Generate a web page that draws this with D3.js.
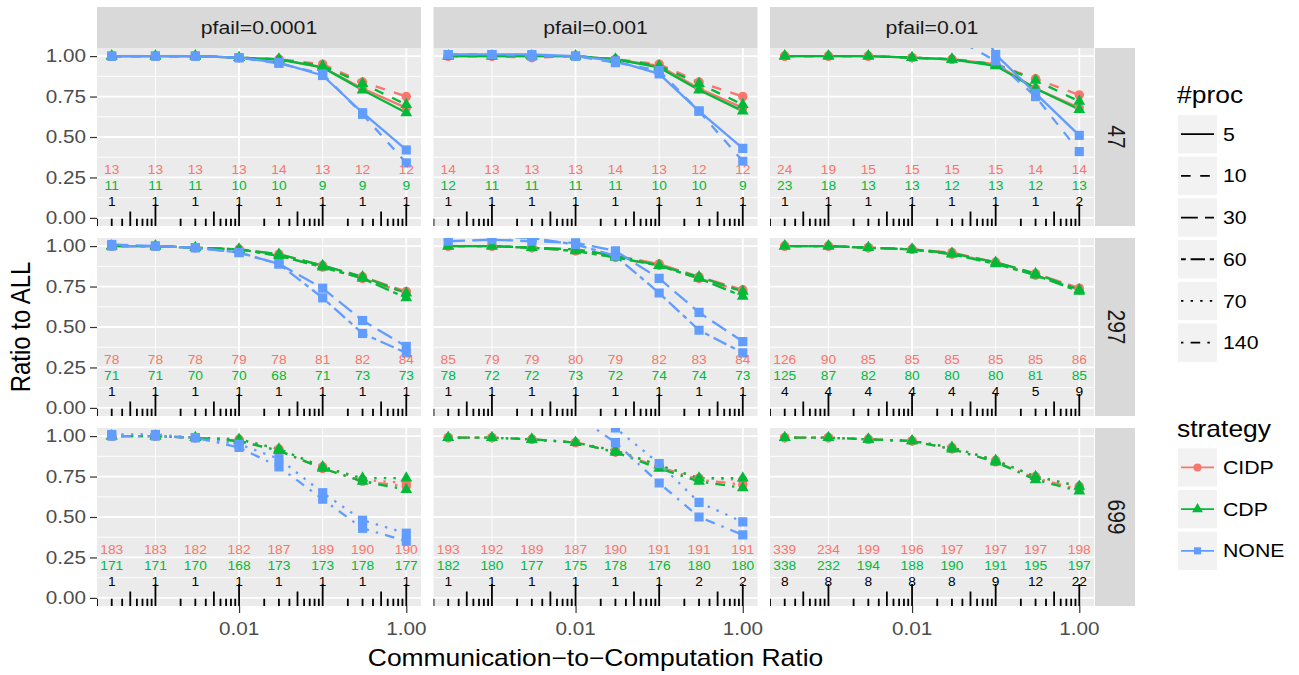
<!DOCTYPE html>
<html>
<head>
<meta charset="utf-8">
<script src="https://cdn.jsdelivr.net/npm/d3@7"></script>
<style>
  body { margin: 0; background: #fff; }
  text { font-family: "Liberation Sans", Arial, sans-serif; }
</style>
</head>
<body>
<div id="chart"></div>
<script>
// x values (communication-to-computation ratio) and facets
const ratios = [0.0003, 0.001, 0.003, 0.01, 0.03, 0.1, 0.3, 1];
const pfails = ["pfail=0.0001", "pfail=0.001", "pfail=0.01"];
const taskRows = ["47", "297", "699"];
const procRows = [[5, 10], [30, 60], [70, 140]];
const procs = [5, 10, 30, 60, 70, 140];
const strategies = ["CIDP", "CDP", "NONE"];

// tick labels
const xMajor = [0.01, 1], xMinor = [0.001, 0.1];
const yMajor = [0, 0.25, 0.5, 0.75, 1], yMinor = [0.125, 0.375, 0.625, 0.875];

// ratio to ALL: [pfail column][proc of the row] -> one value per ratio
const cidp47 = [
  [[1.0, 1.0, 1.0, 0.99, 0.98, 0.93, 0.80, 0.68], [1.0, 1.0, 1.0, 0.99, 0.98, 0.95, 0.84, 0.75]],
  [[1.0, 1.0, 1.0, 1.0, 0.98, 0.94, 0.80, 0.68], [1.0, 1.0, 0.99, 1.0, 0.98, 0.95, 0.84, 0.75]],
  [[1.0, 1.0, 1.0, 0.99, 0.98, 0.95, 0.80, 0.68], [1.0, 1.0, 1.0, 0.99, 0.98, 0.95, 0.86, 0.76]]
];
const cdp47 = [
  [[1.0, 1.0, 1.0, 0.99, 0.98, 0.93, 0.79, 0.65], [1.0, 1.0, 1.0, 0.99, 0.98, 0.94, 0.83, 0.70]],
  [[1.0, 1.0, 1.0, 1.0, 0.98, 0.93, 0.79, 0.66], [1.0, 1.0, 1.0, 1.0, 0.98, 0.94, 0.83, 0.70]],
  [[1.0, 1.0, 1.0, 0.99, 0.98, 0.94, 0.80, 0.67], [1.0, 1.0, 1.0, 0.99, 0.98, 0.95, 0.85, 0.72]]
];
const none47 = [
  [[1.0, 1.0, 1.0, 0.99, 0.96, 0.88, 0.65, 0.42], [1.0, 1.0, 1.0, 0.99, 0.955, 0.89, 0.64, 0.34]],
  [[1.01, 1.01, 1.01, 1.0, 0.97, 0.89, 0.66, 0.43], [1.01, 1.01, 1.0, 1.0, 0.96, 0.91, 0.66, 0.35]],
  [[1.3, 1.3, 1.3, 1.3, 1.5, 1.01, 0.77, 0.51], [1.35, 1.35, 1.35, 1.3, 1.12, 0.97, 0.75, 0.41]]
];
const cidp297 = [
  [[1.0, 1.0, 0.99, 0.98, 0.95, 0.88, 0.81, 0.72], [1.0, 1.0, 0.99, 0.98, 0.94, 0.87, 0.80, 0.71]],
  [[1.0, 1.0, 0.99, 0.98, 0.94, 0.89, 0.81, 0.73], [1.0, 1.0, 0.99, 0.97, 0.93, 0.88, 0.80, 0.72]],
  [[1.0, 1.0, 0.99, 0.98, 0.96, 0.90, 0.83, 0.74], [1.0, 1.0, 0.99, 0.98, 0.95, 0.90, 0.82, 0.73]]
];
const cdp297 = [
  [[1.0, 1.0, 0.99, 0.98, 0.95, 0.88, 0.81, 0.71], [1.0, 1.0, 0.99, 0.98, 0.94, 0.87, 0.80, 0.68]],
  [[1.0, 1.0, 0.99, 0.98, 0.94, 0.88, 0.81, 0.72], [1.0, 1.0, 0.99, 0.97, 0.93, 0.88, 0.80, 0.69]],
  [[1.0, 1.0, 0.99, 0.98, 0.955, 0.90, 0.83, 0.73], [1.0, 1.0, 0.99, 0.98, 0.95, 0.89, 0.82, 0.72]]
];
const none297 = [
  [[1.01, 1.0, 0.99, 0.96, 0.89, 0.74, 0.54, 0.38], [1.0, 1.0, 0.99, 0.96, 0.89, 0.68, 0.46, 0.34]],
  [[1.03, 1.04, 1.03, 1.02, 0.97, 0.80, 0.59, 0.41], [1.06, 1.06, 1.05, 1.01, 0.94, 0.71, 0.48, 0.34]],
  [[null, null, null, null, null, null, null, null], [null, null, null, null, null, null, null, null]]
];
const cidp699 = [
  [[1.0, 1.0, 0.99, 0.98, 0.92, 0.81, 0.73, 0.71], [1.0, 1.0, 0.99, 0.97, 0.91, 0.80, 0.72, 0.69]],
  [[0.99, 0.99, 0.98, 0.96, 0.91, 0.82, 0.74, 0.73], [0.99, 0.99, 0.98, 0.96, 0.90, 0.81, 0.73, 0.70]],
  [[0.99, 0.99, 0.98, 0.97, 0.93, 0.85, 0.75, 0.69], [0.99, 0.99, 0.98, 0.97, 0.92, 0.84, 0.74, 0.67]]
];
const cdp699 = [
  [[1.0, 1.0, 0.99, 0.98, 0.92, 0.81, 0.74, 0.74], [1.0, 1.0, 0.99, 0.97, 0.91, 0.80, 0.72, 0.67]],
  [[0.99, 0.99, 0.98, 0.96, 0.91, 0.82, 0.74, 0.74], [0.99, 0.99, 0.98, 0.96, 0.90, 0.80, 0.72, 0.68]],
  [[0.99, 0.99, 0.98, 0.97, 0.93, 0.85, 0.75, 0.69], [0.99, 0.99, 0.98, 0.97, 0.92, 0.84, 0.73, 0.66]]
];
const none699 = [
  [[1.01, 1.01, 0.99, 0.95, 0.86, 0.65, 0.48, 0.40], [1.0, 1.0, 0.99, 0.93, 0.81, 0.61, 0.43, 0.35]],
  [[1.4, 1.4, 1.35, 1.3, 1.05, 0.83, 0.59, 0.47], [1.3, 1.3, 1.25, 1.13, 0.96, 0.71, 0.50, 0.39]],
  [[null, null, null, null, null, null, null, null], [null, null, null, null, null, null, null, null]]
];

// counts printed in each panel: [pfail column] -> one per ratio
const nCidp47 = [[13, 13, 13, 13, 14, 13, 12, 12], [14, 13, 13, 13, 14, 13, 12, 12], [24, 19, 15, 15, 15, 15, 14, 14]];
const nCdp47 = [[11, 11, 11, 10, 10, 9, 9, 9], [12, 11, 11, 11, 11, 10, 10, 9], [23, 18, 13, 13, 12, 13, 12, 13]];
const nNone47 = [[1, 1, 1, 1, 1, 1, 1, 1], [1, 1, 1, 1, 1, 1, 1, 1], [1, 1, 1, 1, 1, 1, 1, 2]];
const nCidp297 = [[78, 78, 78, 79, 78, 81, 82, 84], [85, 79, 79, 80, 79, 82, 83, 84], [126, 90, 85, 85, 85, 85, 85, 86]];
const nCdp297 = [[71, 71, 70, 70, 68, 71, 73, 73], [78, 72, 72, 73, 72, 74, 74, 73], [125, 87, 82, 80, 80, 80, 81, 85]];
const nNone297 = [[1, 1, 1, 1, 1, 1, 1, 1], [1, 1, 1, 1, 1, 1, 1, 1], [4, 4, 4, 4, 4, 4, 5, 9]];
const nCidp699 = [[183, 183, 182, 182, 187, 189, 190, 190], [193, 192, 189, 187, 190, 191, 191, 191], [339, 234, 199, 196, 197, 197, 197, 198]];
const nCdp699 = [[171, 171, 170, 168, 173, 173, 178, 177], [182, 180, 177, 175, 178, 176, 180, 180], [338, 232, 194, 188, 190, 191, 195, 197]];
const nNone699 = [[1, 1, 1, 1, 1, 1, 1, 1], [1, 1, 1, 1, 1, 1, 2, 2], [8, 8, 8, 8, 8, 9, 12, 22]];

const ratioRows = [[cidp47, cdp47, none47], [cidp297, cdp297, none297], [cidp699, cdp699, none699]];
const countRows = [[nCidp47, nCdp47, nNone47], [nCidp297, nCdp297, nNone297], [nCidp699, nCdp699, nNone699]];

// styles
const colors = {CIDP: "#F8766D", CDP: "#00BA38", NONE: "#619CFF"};
const countColors = ["#F8766D", "#00BA38", "#000000"];
const countY = [0.3, 0.2, 0.1];
const unit = 2.4;
const dashes = {5: null, 10: [4, 4], 30: [7, 3], 60: [2, 2, 6, 2], 70: [1, 3], 140: [1, 3, 4, 3]};
const dashStr = p => dashes[p] ? dashes[p].map(d => d * unit).join(",") : null;
const SX = 1.15;

const W = 1299, H = 675;
const panelW = 324, panelH = 178;
const colX = [97, 433.5, 770], rowY = [48, 238, 428];

const svg = d3.select("#chart").append("svg").attr("width", W).attr("height", H);

const x = d3.scaleLog().domain([0.0002, 1.5]).range([0, panelW]);
const y = d3.scaleLinear().domain([-0.05, 1.05]).range([panelH, 0]);

function label(parent, px, py, str, size, fill, anchor, rot, sx) {
  return parent.append("text")
    .attr("transform", `translate(${px},${py}) scale(${sx || SX},1)` + (rot ? ` rotate(${rot})` : ""))
    .attr("text-anchor", anchor || "start")
    .attr("font-size", size)
    .attr("fill", fill)
    .text(str);
}

const symbols = {
  CIDP: d3.symbol().type(d3.symbolCircle).size(70),
  CDP: d3.symbol().type(d3.symbolTriangle).size(60),
  NONE: d3.symbol().type(d3.symbolSquare).size(84)
};

// log ticks positions
const logTicks = [];
for (let k = -4; k <= 0; k++) {
  for (let m = 1; m <= 9; m++) {
    const v = m * Math.pow(10, k);
    if (v >= 0.0002 - 1e-12 && v <= 1.5) logTicks.push({v, len: m === 1 ? 22 : (m === 5 ? 14.5 : 7.3)});
  }
}

const line = d3.line().defined(d => d[1] != null).x(d => x(d[0])).y(d => y(d[1]));

taskRows.forEach((task, r) => {
  pfails.forEach((pf, c) => {
    const g = svg.append("g").attr("transform", `translate(${colX[c]},${rowY[r]})`);
    const clipId = `clip-${r}-${c}`;
    g.append("clipPath").attr("id", clipId).append("rect").attr("width", panelW).attr("height", panelH);

    g.append("rect").attr("width", panelW).attr("height", panelH).attr("fill", "#EBEBEB");
    g.selectAll(".ymin").data(yMinor).enter().append("line")
      .attr("x1", 0).attr("x2", panelW).attr("y1", d => y(d)).attr("y2", d => y(d))
      .attr("stroke", "#fff").attr("stroke-width", 0.9);
    g.selectAll(".xmin").data(xMinor).enter().append("line")
      .attr("y1", 0).attr("y2", panelH).attr("x1", d => x(d)).attr("x2", d => x(d))
      .attr("stroke", "#fff").attr("stroke-width", 0.9);
    g.selectAll(".ymaj").data(yMajor).enter().append("line")
      .attr("x1", 0).attr("x2", panelW).attr("y1", d => y(d)).attr("y2", d => y(d))
      .attr("stroke", "#fff").attr("stroke-width", 1.8);
    g.selectAll(".xmaj").data(xMajor).enter().append("line")
      .attr("y1", 0).attr("y2", panelH).attr("x1", d => x(d)).attr("x2", d => x(d))
      .attr("stroke", "#fff").attr("stroke-width", 1.8);

    const inner = g.append("g").attr("clip-path", `url(#${clipId})`);

    // lines
    strategies.forEach((s, si) => {
      procRows[r].forEach((p, pi) => {
        const pts = ratios.map((rt, i) => [rt, ratioRows[r][si][c][pi][i]]);
        inner.append("path").datum(pts)
          .attr("d", line)
          .attr("fill", "none")
          .attr("stroke", colors[s])
          .attr("stroke-width", 2.3)
          .attr("stroke-dasharray", dashStr(p));
      });
    });
    // points
    strategies.forEach((s, si) => {
      procRows[r].forEach((p, pi) => {
        const pts = ratios.map((rt, i) => [rt, ratioRows[r][si][c][pi][i]]).filter(d => d[1] != null);
        inner.selectAll(null).data(pts).enter().append("path")
          .attr("transform", d => `translate(${x(d[0])},${y(d[1])})`)
          .attr("d", symbols[s]())
          .attr("fill", colors[s]);
      });
    });
    // counts
    countRows[r].forEach((arr, k) => {
      arr[c].forEach((n, i) => {
        label(inner, x(ratios[i]), y(countY[k]) + 4.7, n, 13, countColors[k], "middle", null, 1.06);
      });
    });
    // log ticks
    inner.selectAll(".lt").data(logTicks).enter().append("line")
      .attr("x1", d => x(d.v)).attr("x2", d => x(d.v))
      .attr("y1", panelH).attr("y2", d => panelH - d.len)
      .attr("stroke", "#000").attr("stroke-width", 1.8);

    // y axis
    if (c === 0) {
      const ya = g.append("g").call(d3.axisLeft(y).tickValues(yMajor).tickFormat(d3.format(".2f")).tickSize(7).tickPadding(4));
      ya.select(".domain").remove();
      ya.selectAll("line").attr("stroke", "#333").attr("stroke-width", 1.2);
      ya.selectAll("text").remove();
      yMajor.forEach(v => label(g, -11, y(v) + 6.4, d3.format(".2f")(v), 18, "#4D4D4D", "end"));
    }
    // x axis
    if (r === 2) {
      const xa = g.append("g").attr("transform", `translate(0,${panelH})`)
        .call(d3.axisBottom(x).tickValues(xMajor).tickSize(7));
      xa.select(".domain").remove();
      xa.selectAll("line").attr("stroke", "#333").attr("stroke-width", 1.2);
      xa.selectAll("text").remove();
      xMajor.forEach(v => label(g, x(v), panelH + 29, d3.format(".2f")(v), 18, "#4D4D4D", "middle"));
    }
    // top strip
    if (r === 0) {
      svg.append("rect").attr("x", colX[c]).attr("y", 7).attr("width", panelW).attr("height", 41).attr("fill", "#D9D9D9");
      label(svg, colX[c] + panelW / 2, 34, pf, 18.5, "#1A1A1A", "middle");
    }
    // right strip
    if (c === 2) {
      svg.append("rect").attr("x", colX[c] + panelW + 1).attr("y", rowY[r]).attr("width", 40).attr("height", panelH).attr("fill", "#D9D9D9");
      label(svg, colX[c] + panelW + 14, rowY[r] + panelH / 2, task, 21, "#1A1A1A", "middle", 90);
    }
  });
});

// axis titles
label(svg, (colX[0] + colX[2] + panelW) / 2, 666, "Communication\u2212to\u2212Computation Ratio", 23, "#000", "middle");
label(svg, 30, (rowY[0] + rowY[2] + panelH) / 2, "Ratio to ALL", 24, "#000", "middle", -90);

// legends
const lx = 1178, keyW = 39, keyH = 38.3, pitch = 41.7;
label(svg, 1177, 103, "#proc", 23, "#000", "start");
procs.forEach((p, i) => {
  const ky = 115 + i * pitch;
  svg.append("rect").attr("x", lx).attr("y", ky).attr("width", keyW).attr("height", keyH).attr("fill", "#F2F2F2");
  svg.append("line").attr("x1", lx + 3).attr("x2", lx + keyW - 3).attr("y1", ky + keyH / 2).attr("y2", ky + keyH / 2)
    .attr("stroke", "#000").attr("stroke-width", 1.8).attr("stroke-dasharray", dashStr(p));
  label(svg, 1223, ky + keyH / 2 + 6.6, p, 18.5, "#000", "start");
});
label(svg, 1177, 437, "strategy", 23, "#000", "start");
strategies.forEach((s, i) => {
  const ky = 448.3 + i * pitch;
  svg.append("rect").attr("x", lx).attr("y", ky).attr("width", keyW).attr("height", keyH).attr("fill", "#F2F2F2");
  svg.append("line").attr("x1", lx + 3).attr("x2", lx + keyW - 3).attr("y1", ky + keyH / 2).attr("y2", ky + keyH / 2)
    .attr("stroke", colors[s]).attr("stroke-width", 1.8);
  svg.append("path").attr("transform", `translate(${lx + keyW / 2},${ky + keyH / 2})`)
    .attr("d", d3.symbol().type(s === "CIDP" ? d3.symbolCircle : s === "CDP" ? d3.symbolTriangle : d3.symbolSquare).size(50)())
    .attr("fill", colors[s]);
  label(svg, 1223, ky + keyH / 2 + 6.6, s, 18.5, "#000", "start");
});
</script>
</body>
</html>
